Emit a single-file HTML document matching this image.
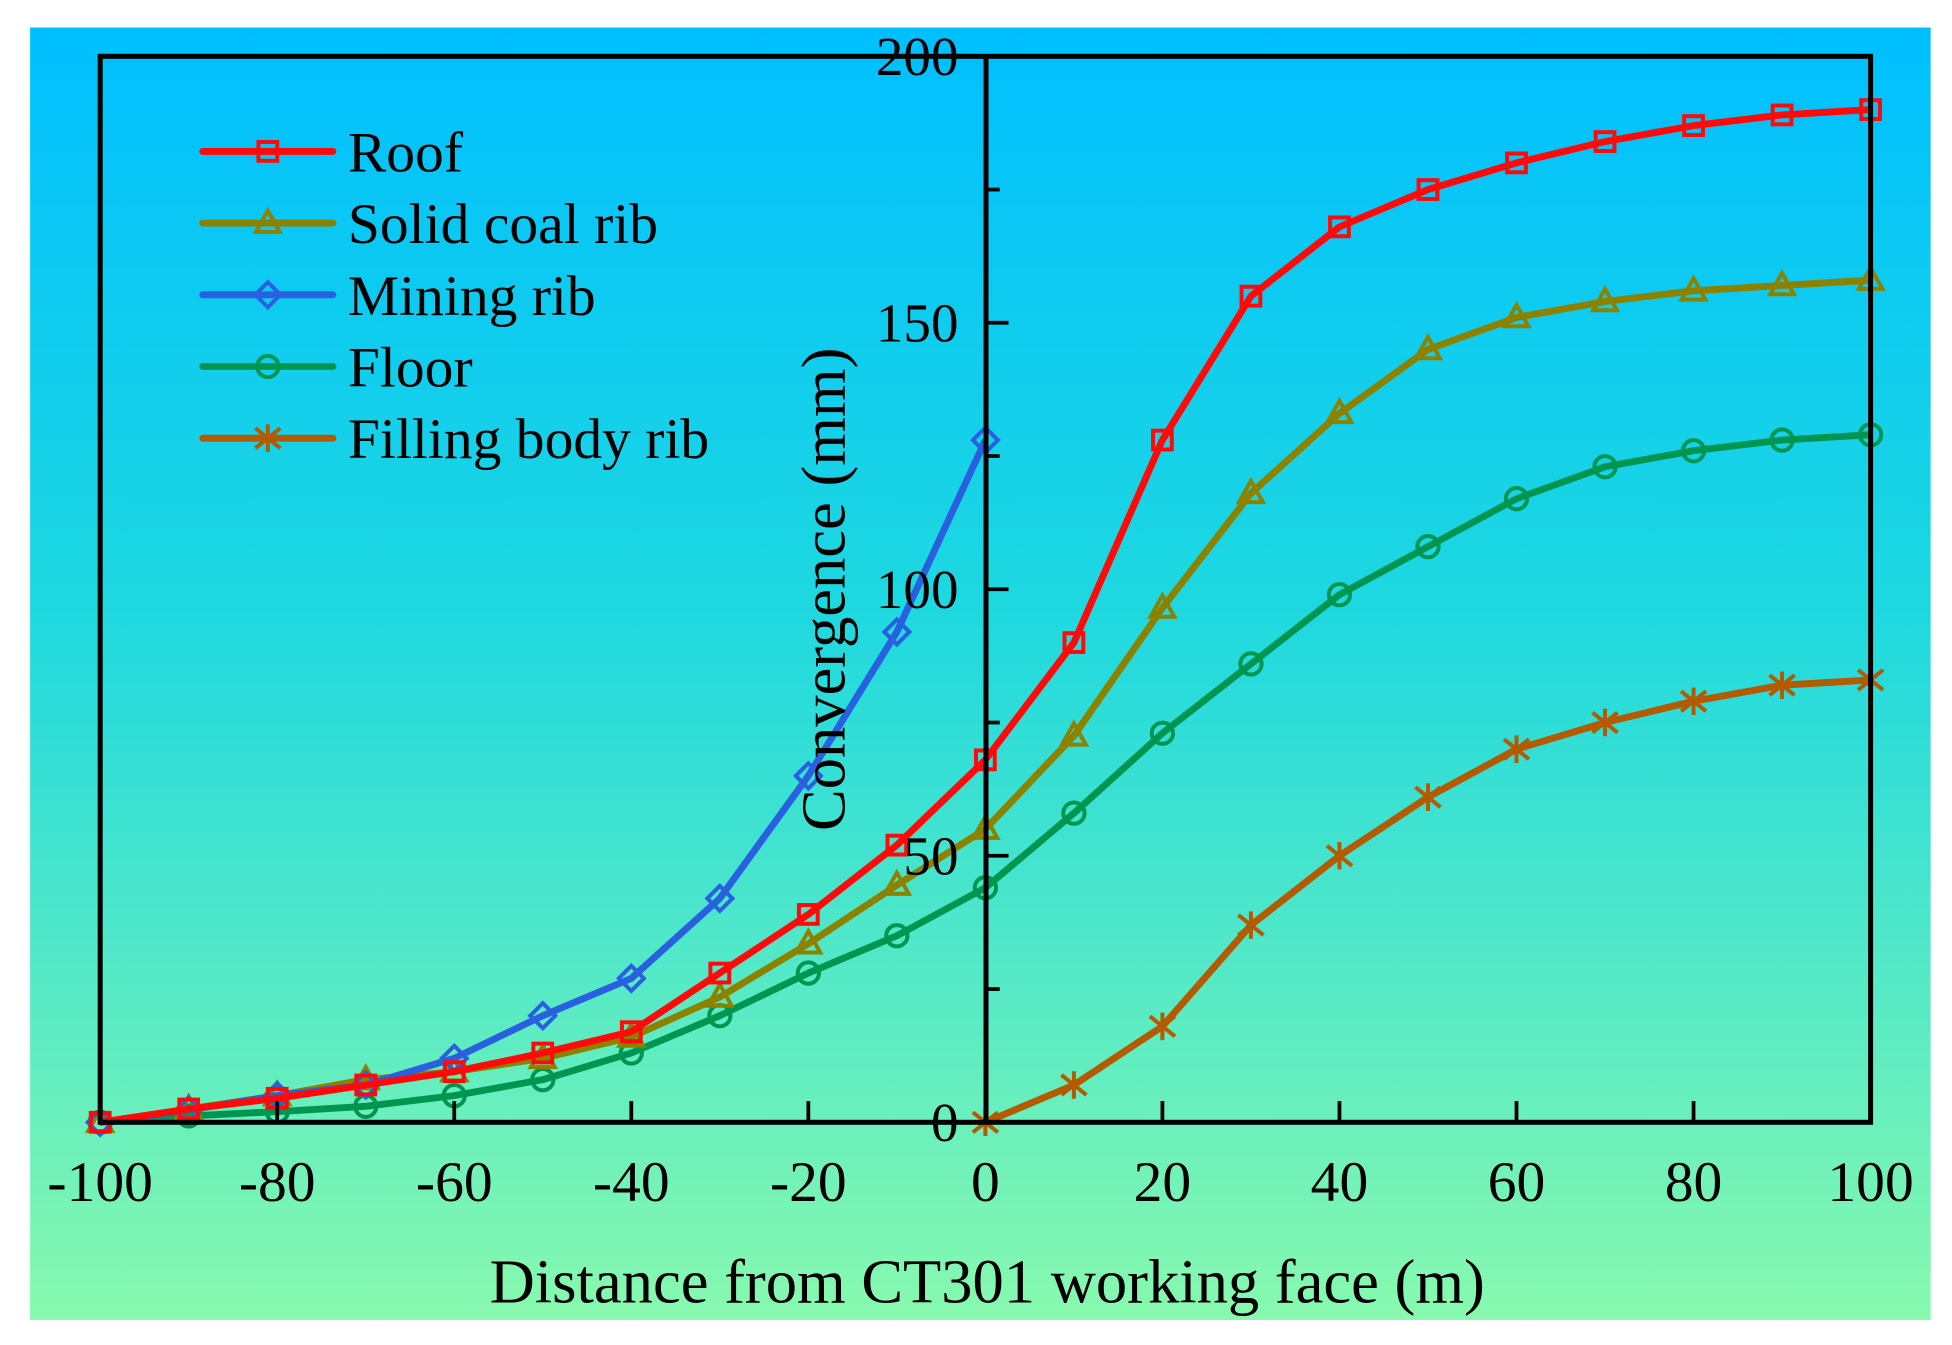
<!DOCTYPE html>
<html><head><meta charset="utf-8"><style>
html,body{margin:0;padding:0;background:#fff;}
svg{display:block;}
text{font-family:"Liberation Serif",serif;}
</style></head><body>
<svg id="chart" width="1952" height="1345" viewBox="0 0 1560 1075" xmlns="http://www.w3.org/2000/svg">
<defs>
<linearGradient id="bg" x1="0" y1="0" x2="0" y2="1">
<stop offset="0" stop-color="#00BFFF"/>
<stop offset="0.45" stop-color="#1ED8E0"/>
<stop offset="1" stop-color="#88F9AE"/>
</linearGradient>
</defs>
<rect x="24" y="22" width="1519" height="1033" fill="url(#bg)"/>
<g id="marks"></g>
<rect x="80" y="45" width="1415" height="852" fill="none" stroke="#000" stroke-width="4"/>
<line x1="788" y1="45" x2="788" y2="897" stroke="#000" stroke-width="4"/>
<g id="axes"></g>
<text x="789" y="1041" font-size="50" text-anchor="middle">Distance from CT301 working face (m)</text>
<text transform="translate(675,471) rotate(-90)" font-size="50" text-anchor="middle">Convergence (mm)</text>
<g id="legend"></g>
</svg>
<script>
const xValues=[-100,-90,-80,-70,-60,-50,-40,-30,-20,-10,0,10,20,30,40,50,60,70,80,90,100];
const roof=[0,2.5,4.5,7,9.5,13,17,28,39,52,68,90,128,155,168,175,180,184,187,189,190];
const solidCoal=[0,2.5,5,8,9.5,12,16,23.5,33.5,44.5,55,72.5,96.5,118,133,145,151,154,156,157,158];
const miningX=[-100,-90,-80,-70,-60,-50,-40,-30,-20,-10,0];
const miningRib=[0,2.3,5,7,12,20,27,42,65,92,128];
const floorV=[0,1.2,2,3,5,8,13,20,28,35,44,58,73,86,99,108,117,123,126,128,129];
const fillX=[0,10,20,30,40,50,60,70,80,90,100];
const fillingBody=[0,7,18,37,50,61,70,75,79,82,83];
const xTicks=[-100,-80,-60,-40,-20,0,20,40,60,80,100];
const yTicks=[0,50,100,150,200];
const yMinor=[25,75,125,175];
const NS="http://www.w3.org/2000/svg";
const X=v=>80+(v+100)/200*1415;
const Y=v=>897-v/200*852;
function mk(tag,attrs,parent){const e=document.createElementNS(NS,tag);for(const k in attrs)e.setAttribute(k,attrs[k]);parent.appendChild(e);return e;}
const axes=document.getElementById('axes');
xTicks.forEach(t=>{
  const l=mk('line',{x1:X(t),y1:897,x2:X(t),y2:880,stroke:'#000','stroke-width':3},axes);
  
  
  const tx=mk('text',{x:X(t),y:960,'font-size':46,'text-anchor':'middle'},axes);
  tx.textContent=t;
  
  
});
yTicks.forEach(t=>{
  const l=mk('line',{x1:788,y1:Y(t),x2:806,y2:Y(t),stroke:'#000','stroke-width':3},axes);
  
  
  const tx=mk('text',{x:766,y:Y(t)+15,'font-size':44,'text-anchor':'end'},axes);
  tx.textContent=t;
  
  
});
yMinor.forEach(t=>{
  const l=mk('line',{x1:788,y1:Y(t),x2:799,y2:Y(t),stroke:'#000','stroke-width':3},axes);
  
  
});
function marker(type,cx,cy,color,parent){
  const s=7.5,a={fill:'none',stroke:color,'stroke-width':3.2};
  let e;
  if(type==='square'){e=mk('rect',Object.assign({x:cx-s,y:cy-s,width:2*s,height:2*s},a),parent);}
  else if(type==='triangle'){e=mk('polygon',Object.assign({points:`${cx},${cy-10} ${cx-9.5},${cy+7} ${cx+9.5},${cy+7}`},a),parent);}
  else if(type==='diamond'){e=mk('polygon',Object.assign({points:`${cx},${cy-10} ${cx+10},${cy} ${cx},${cy+10} ${cx-10},${cy}`},a),parent);}
  else if(type==='circle'){e=mk('circle',Object.assign({cx:cx,cy:cy,r:8.5},a),parent);}
  else {e=mk('path',Object.assign({d:`M${cx} ${cy-11}V${cy+11}M${cx-10} ${cy-8}L${cx+10} ${cy+8}M${cx-10} ${cy+8}L${cx+10} ${cy-8}`},a),parent);}
  return e;
}
const series=[
 {name:'Roof',key:'roof',xs:xValues,ys:roof,color:'#FF0A0A',m:'square'},
 {name:'Solid coal rib',key:'solid-coal-rib',xs:xValues,ys:solidCoal,color:'#8C8200',m:'triangle'},
 {name:'Mining rib',key:'mining-rib',xs:miningX,ys:miningRib,color:'#2860E0',m:'diamond'},
 {name:'Floor',key:'floor',xs:xValues,ys:floorV,color:'#009650',m:'circle'},
 {name:'Filling body rib',key:'filling-body-rib',xs:fillX,ys:fillingBody,color:'#B45A00',m:'star'}
];
const marks=document.getElementById('marks');
const drawOrder=[4,3,1,2,0];
drawOrder.forEach(i=>{
  const s=series[i];
  const g=mk('g',{},marks);
  
  
  const pts=s.xs.map((x,j)=>X(x)+','+Y(s.ys[j])).join(' ');
  const pl=mk('polyline',{points:pts,fill:'none',stroke:s.color,'stroke-width':5.5,'stroke-linejoin':'round'},g);
  
  
  s.xs.forEach((x,j)=>{
    const e=marker(s.m,X(x),Y(s.ys[j]),s.color,g);
    
    
  });
});
const legend=document.getElementById('legend');
series.forEach((s,i)=>{
  const y=121+i*57.3;
  const g=mk('g',{},legend);
  
  
  mk('line',{x1:162,y1:y,x2:266,y2:y,stroke:s.color,'stroke-width':5.5,'stroke-linecap':'round'},g);
  marker(s.m,214,y,s.color,g);
  const t=mk('text',{x:278,y:y+16,'font-size':46},g);
  t.textContent=s.name;
});
</script>
</body></html>
